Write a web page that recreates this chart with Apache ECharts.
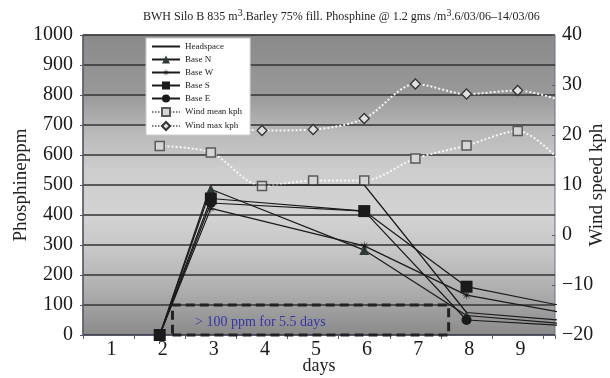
<!DOCTYPE html>
<html>
<head>
<meta charset="utf-8">
<script src="https://cdn.jsdelivr.net/npm/echarts@6/dist/echarts.min.js"></script>
<style>
html,body{margin:0;padding:0;background:#fff;}
#chart{width:610px;height:378px;}
</style>
</head>
<body>
<div id="chart"></div>
<script>
// ---- data ----
const days = [1, 2, 3, 4, 5, 6, 7, 8, 9, 10];
const dayLabels = ['1', '2', '3', '4', '5', '6', '7', '8', '9'];
const headspace = [null, 0, 500, null, null, 500, null, 75, null, 47];
const baseN = [null, 0, 486, null, null, 283, null, 65, null, 36];
const baseW = [null, 0, 422, null, null, 297, null, 133, null, 71];
const baseS = [null, 0, 455, null, null, 413, null, 161, null, 93];
const baseE = [null, 0, 440, null, null, 413, null, 50, null, 31];
const windMean = [null, 17.8, 16.5, 9.8, 10.9, 10.9, 15.3, 17.9, 20.8, 13];
const windMax = [null, 21.8, 21.7, 20.9, 21.1, 23.3, 30.2, 28.2, 28.9, 26.4];
const boxDays = [2.25, 7.65];
const boxPpm = [0, 100];
const boxText = '> 100 ppm for 5.5 days';
const leftTicks = [0, 1000, 100];
const rightTicks = [-20, 40, 10];

function pairs(arr) {
  return days.map((d, i) => [d, arr[i]]).filter(p => p[1] !== null);
}

// eight-point asterisk symbol
let star = 'path://';
for (let k = 0; k < 16; k++) {
  const a = Math.PI * k / 8 - Math.PI / 2;
  const r = (k % 2 === 0) ? 10 : 2.2;
  star += (k === 0 ? 'M' : 'L') + (r * Math.cos(a)).toFixed(2) + ',' + (r * Math.sin(a)).toFixed(2);
}
star += 'Z';

const serif = '"Liberation Serif", "DejaVu Serif", serif';
const chart = echarts.init(document.getElementById('chart'), null, {renderer: 'canvas'});

const phosLine = {color: '#1a1a1a', width: 1.2};
const windLine = {color: '#f6f6f6', width: 2, type: 'dotted'};

chart.setOption({
  animation: false,
  backgroundColor: '#ffffff',
  title: {
    text: 'BWH Silo B 835 m{sup|3}.Barley 75% fill. Phosphine @ 1.2 gms /m{sup|3}.6/03/06\u201314/03/06',
    left: 138, top: 3,
    textStyle: {
      fontFamily: serif, fontSize: 12, fontWeight: 'normal', color: '#222',
      rich: {sup: {fontFamily: serif, fontSize: 10, color: '#222', padding: [0, 0, 7, 0]}}
    }
  },
  grid: [
    {left: 83, right: 55, top: 35, bottom: 43, show: true, borderColor: '#6a6f88', borderWidth: 1,
      outerBoundsMode: 'none', containLabel: false,
      backgroundColor: {type: 'linear', x: 0, y: 0, x2: 0, y2: 1, colorStops: [
        {offset: 0, color: '#8a8a8a'}, {offset: 0.2, color: '#999999'}, {offset: 0.33, color: '#bababa'},
        {offset: 0.45, color: '#cdcdcd'}, {offset: 0.6, color: '#d3d3d3'}, {offset: 0.72, color: '#c6c6c6'},
        {offset: 0.85, color: '#aeaeae'}, {offset: 1, color: '#8a8a8a'}]}},
    {left: 86, right: 64, top: 35, bottom: 43, show: false, outerBoundsMode: 'none', containLabel: false}
  ],
  legend: {
    orient: 'vertical', left: 146, top: 38,
    backgroundColor: '#ffffff', borderColor: '#cccccc', borderWidth: 1,
    padding: [4, 8, 4, 5], itemGap: 4, itemWidth: 28, itemHeight: 10,
    textStyle: {fontFamily: serif, fontSize: 9, color: '#222'},
    data: [
      {name: 'Headspace', itemStyle: {opacity: 0}}, {name: 'Base N'}, {name: 'Base W'}, {name: 'Base S'}, {name: 'Base E'},
      {name: 'Wind mean kph', lineStyle: {color: '#555', type: 'dotted', width: 1.5}},
      {name: 'Wind max kph', lineStyle: {color: '#555', type: 'dotted', width: 1.5}}
    ]
  },
  xAxis: [
    {type: 'value', gridIndex: 0, min: 0.5, max: 9.73, interval: 1,
      name: 'days', nameLocation: 'middle', nameGap: 22, nameMoveOverlap: false,
      nameTextStyle: {fontFamily: serif, fontSize: 18, color: '#222'},
      axisLine: {show: true, lineStyle: {color: '#555a70', width: 1}},
      axisTick: {show: true, length: 4, lineStyle: {color: '#555a70'}},
      axisLabel: {show: false}, splitLine: {show: false}},
    {type: 'category', gridIndex: 1, data: dayLabels, boundaryGap: true,
      axisLine: {show: false}, axisTick: {show: false}, splitLine: {show: false},
      axisLabel: {fontFamily: serif, fontSize: 20, color: '#1a1a1a', margin: 5}}
  ],
  yAxis: [
    {type: 'value', gridIndex: 0, min: leftTicks[0], max: leftTicks[1], interval: leftTicks[2],
      name: 'Phosphineppm', nameLocation: 'middle', nameGap: 52, nameRotate: 90, nameMoveOverlap: false,
      nameTextStyle: {fontFamily: serif, fontSize: 19, color: '#222'},
      axisLine: {show: true, lineStyle: {color: '#555a70', width: 1.5}},
      axisTick: {show: true, length: 3, lineStyle: {color: '#555a70'}},
      axisLabel: {fontFamily: serif, fontSize: 20, color: '#1a1a1a', margin: 10, formatter: v => String(v)},
      splitLine: {show: true, lineStyle: {color: '#333333', width: 1.5}}},
    {type: 'value', gridIndex: 0, position: 'right', min: rightTicks[0], max: rightTicks[1], interval: rightTicks[2],
      name: 'Wind speed kph', nameLocation: 'middle', nameGap: 33, nameRotate: 90, nameMoveOverlap: false,
      nameTextStyle: {fontFamily: serif, fontSize: 19, color: '#222'},
      axisLine: {show: false}, axisTick: {show: true, inside: true, length: 3, lineStyle: {color: '#555a70'}},
      axisLabel: {fontFamily: serif, fontSize: 20, color: '#1a1a1a', margin: 7,
        formatter: v => String(v).replace('-', '\u2212')},
      splitLine: {show: false}},
    {type: 'value', gridIndex: 1, show: false, min: 0, max: 1}
  ],
  series: [
    {name: 'Wind mean kph', type: 'line', yAxisIndex: 1, smooth: 0.3, data: pairs(windMean), z: 2,
      lineStyle: windLine, symbol: 'rect', symbolSize: 9,
      itemStyle: {color: '#d6d6d6', borderColor: '#5a5a5a', borderWidth: 1.5}},
    {name: 'Wind max kph', type: 'line', yAxisIndex: 1, smooth: 0.3, data: pairs(windMax), z: 2,
      lineStyle: windLine, symbol: 'diamond', symbolSize: 10,
      itemStyle: {color: '#e0e0e0', borderColor: '#333', borderWidth: 1.3}},
    {name: 'Headspace', type: 'line', data: pairs(headspace), symbol: 'none', lineStyle: phosLine, z: 3,
      itemStyle: {color: '#1a1a1a'},
      markArea: {silent: true,
        itemStyle: {color: 'rgba(0,0,0,0)', borderColor: '#222', borderWidth: 3, borderType: [9, 5]},
        label: {show: true, position: 'insideLeft', offset: [19, 2], formatter: boxText,
          fontFamily: serif, fontSize: 14, color: '#3535a8'},
        data: [[{xAxis: boxDays[0], yAxis: boxPpm[0]}, {xAxis: boxDays[1], yAxis: boxPpm[1]}]]}},
    {name: 'Base N', type: 'line', data: pairs(baseN), symbol: 'triangle', symbolSize: 10, z: 3,
      lineStyle: phosLine, itemStyle: {color: '#2c3b36'}},
    {name: 'Base W', type: 'line', data: pairs(baseW), symbol: star, symbolSize: 11, z: 3,
      lineStyle: phosLine, itemStyle: {color: '#1a1a1a'}},
    {name: 'Base S', type: 'line', data: pairs(baseS), symbol: 'rect', symbolSize: 12, z: 3,
      lineStyle: phosLine, itemStyle: {color: '#1a1a1a'}},
    {name: 'Base E', type: 'line', data: pairs(baseE), symbol: 'circle', symbolSize: 10, z: 3,
      lineStyle: phosLine, itemStyle: {color: '#1a1a1a'}}
  ]
});
</script>
</body>
</html>
